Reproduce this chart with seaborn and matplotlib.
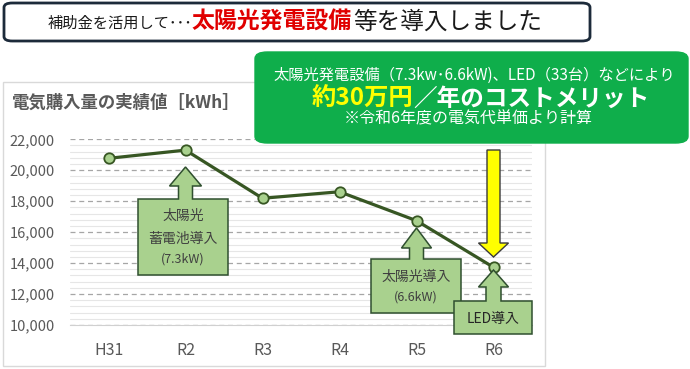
import matplotlib
matplotlib.use("Agg")
import matplotlib.pyplot as plt
from matplotlib.patches import Polygon, FancyBboxPatch, Rectangle
from matplotlib.ticker import MultipleLocator, StrMethodFormatter
import seaborn as sns
import pandas as pd

# data
years = ["H31", "R2", "R3", "R4", "R5", "R6"]
kwh = [20770, 21300, 18190, 18610, 16740, 13730]

callout_years = ["R2", "R5", "R6"]
callout_texts = [["太陽光", "蓄電池導入", "(7.3kW)"], ["太陽光導入", "(6.6kW)"], ["LED導入"]]

chart_title = "電気購入量の実績値［kWh］"
banner_small = "補助金を活用して･･･"
banner_red = "太陽光発電設備"
banner_rest = "等を導入しました"
merit_line1 = "太陽光発電設備（7.3kw･6.6kW)、LED（33台）などにより"
merit_yellow = "約30万円"
merit_white = "／年のコストメリット"
merit_note = "※令和6年度の電気代単価より計算"

W, H = 690, 369
LINE = "#375623"
FILL = "#a9d18e"
GRAY = "#595959"

sns.set_style("white")
plt.rcParams["font.family"] = ["Noto Sans CJK JP", "DejaVu Sans"]


def fx(x):
    return x / W


def fy(y):
    return 1 - y / H


def pts(seq):
    return [(fx(x), fy(y)) for x, y in seq]


fig = plt.figure(figsize=(W / 100, H / 100), dpi=100)
fig.patch.set_facecolor("white")
renderer = fig.canvas.get_renderer()

# chart panel frame
fig.add_artist(Rectangle((fx(3), fy(366)), fx(545) - fx(3), fy(82) - fy(366),
                         transform=fig.transFigure, fill=False, ec="#d9d9d9", lw=1, zorder=-1))

ax = fig.add_axes([fx(70), fy(325), fx(532) - fx(70), fy(139.3) - fy(325)])
df = pd.DataFrame({"year": years, "kwh": kwh})
sns.lineplot(data=df, x="year", y="kwh", sort=False, color=LINE, lw=2.3,
             marker="o", markersize=7.5, markerfacecolor=FILL,
             markeredgecolor=LINE, markeredgewidth=1.3, ax=ax, zorder=5)

ax.set_xlim(-0.5, len(years) - 0.5)
ax.set_ylim(10000, 22000)
ax.yaxis.set_major_locator(MultipleLocator(2000))
ax.yaxis.set_minor_locator(MultipleLocator(400))
ax.yaxis.set_major_formatter(StrMethodFormatter("{x:,.0f}"))
ax.grid(axis="y", which="major", color="#a6a6a6", lw=0.9, ls=(0, (4, 3)))
ax.grid(axis="y", which="minor", color="#e6e6e6", lw=0.8)
ax.set_axisbelow(True)
for s in ["top", "right", "left"]:
    ax.spines[s].set_visible(False)
ax.spines["bottom"].set_color("#d0d0d0")
ax.tick_params(axis="both", which="both", length=0)
ax.tick_params(axis="y", labelsize=10.5, labelcolor=GRAY, pad=11)
ax.tick_params(axis="x", labelsize=11.5, labelcolor=GRAY, pad=12)
ax.set_xlabel("")
ax.set_ylabel("")

fig.text(fx(12), fy(103), chart_title, fontsize=12.5, fontweight="bold",
         color=GRAY, ha="left", va="center")

# title banner
fig.add_artist(FancyBboxPatch((fx(4), fy(41)), fx(590) - fx(4), fy(3) - fy(41),
                              boxstyle="round,pad=0,rounding_size=0.012",
                              transform=fig.transFigure, fc="white", ec="#1c2a3a", lw=2))
fig.text(fx(48), fy(23), banner_small, fontsize=11, color="#1a1a1a", ha="left", va="center")
red = fig.text(fx(192), fy(22), banner_red, fontsize=16.5, fontweight="bold", color="#e00000",
               ha="left", va="center")
red_right = red.get_window_extent(renderer).x1
fig.text(red_right / W + fx(1), fy(22), banner_rest, fontsize=17, color="#1a1a1a",
         ha="left", va="center")

# green merit box
fig.add_artist(FancyBboxPatch((fx(255), fy(143)), fx(688) - fx(255), fy(52) - fy(143),
                              boxstyle="round,pad=0,rounding_size=0.018",
                              transform=fig.transFigure, fc="#0fae4b", ec="#0fae4b", lw=1, zorder=6))
fig.text(fx(474), fy(75), merit_line1, fontsize=11, color="white", ha="center", va="center", zorder=7)
fig.text(fx(413), fy(99), merit_yellow, fontsize=17.5, fontweight="bold", color="#ffff00",
         ha="right", va="center", zorder=7)
fig.text(fx(413), fy(99), merit_white, fontsize=17, fontweight="bold", color="white",
         ha="left", va="center", zorder=7)
fig.text(fx(468), fy(119), merit_note, fontsize=11.5, color="white", ha="center", va="center", zorder=7)


def cat_px(label):
    x_disp, _ = ax.transData.transform((years.index(label), 0))
    return x_disp


# callout geometry (pixels, y measured from top): tip, head base, head/shaft half width, box
geoms = [
    dict(tip=167, base=186, hw=16, sw=7, top=199, bottom=275, left=138, right=228, ty=[216, 239, 259]),
    dict(tip=228, base=248, hw=15, sw=7, top=259, bottom=313, left=371, right=461, ty=[277, 297]),
    dict(tip=270, base=287, hw=15, sw=7.5, top=301, bottom=334, left=454, right=532, ty=[319]),
]
for yr, lines, g in zip(callout_years, callout_texts, geoms):
    cx = cat_px(yr)
    shape = [(g["left"], g["bottom"]), (g["right"], g["bottom"]), (g["right"], g["top"]),
             (cx + g["sw"], g["top"]), (cx + g["sw"], g["base"]), (cx + g["hw"], g["base"]),
             (cx, g["tip"]), (cx - g["hw"], g["base"]), (cx - g["sw"], g["base"]),
             (cx - g["sw"], g["top"]), (g["left"], g["top"])]
    fig.add_artist(Polygon(pts(shape), closed=True, transform=fig.transFigure,
                           fc=FILL, ec="#2f4f2f", lw=1.1, zorder=8))
    bx = (g["left"] + g["right"]) / 2
    for t, ty in zip(lines, g["ty"]):
        small = t.startswith("(")
        fig.text(fx(bx), fy(ty), t, fontsize=9 if small else 10,
                 color="#262626" if yr == "R6" else "#404040",
                 ha="center", va="center", zorder=9)

# yellow arrow pointing at the latest year
cx = cat_px(years[-1])
arrow = [(cx - 6.5, 150), (cx + 6.5, 150), (cx + 6.5, 243), (cx + 15, 243),
         (cx, 257), (cx - 15, 243), (cx - 6.5, 243)]
fig.add_artist(Polygon(pts(arrow), closed=True, transform=fig.transFigure,
                       fc="#ffff00", ec="#3a3a3a", lw=1, zorder=8))

fig.savefig("out.png", dpi=100, facecolor="white")
